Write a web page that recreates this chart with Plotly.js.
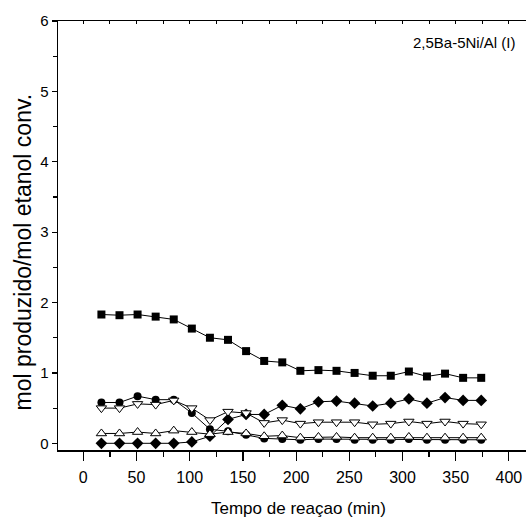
<!DOCTYPE html>
<html>
<head>
<meta charset="utf-8">
<script src="https://cdn.plot.ly/plotly-3.0.1.min.js"></script>
<style>html,body{margin:0;padding:0;background:#fff;}#chart{width:526px;height:520px;}</style>
</head>
<body>
<div id="chart"></div>
<script>
var time = [17,34,51,68,85,102,119,136,153,170,187,204,221,238,255,272,289,306,323,340,357,374];
var squareVals = [1.83,1.82,1.83,1.80,1.76,1.63,1.50,1.47,1.31,1.17,1.15,1.03,1.04,1.03,1.00,0.96,0.96,1.02,0.95,0.99,0.93,0.93];
var circleVals = [0.58,0.58,0.67,0.62,0.62,0.43,0.20,0.17,0.12,0.07,0.06,0.05,0.06,0.06,0.05,0.05,0.05,0.06,0.05,0.05,0.05,0.05];
var diamondVals = [0.00,0.00,0.00,0.00,0.00,0.02,0.10,0.34,0.41,0.41,0.54,0.49,0.59,0.60,0.57,0.53,0.57,0.63,0.57,0.65,0.61,0.61];
var triUpVals = [0.14,0.14,0.16,0.14,0.18,0.16,0.13,0.16,0.14,0.10,0.11,0.08,0.09,0.09,0.08,0.08,0.08,0.09,0.08,0.08,0.08,0.08];
var triDownVals = [0.50,0.50,0.56,0.55,0.61,0.50,0.33,0.45,0.43,0.29,0.33,0.28,0.30,0.30,0.30,0.27,0.28,0.31,0.28,0.31,0.28,0.27];
var xTickVals = [0,50,100,150,200,250,300,350,400];
var yTickVals = [0,1,2,3,4,5,6];
var sampleLabel = "2,5Ba-5Ni/Al (I)";

var lineStyle = {color:'#000', width:1};
function tr(y, marker){
  return {x: time, y: y, type:'scatter', mode:'lines+markers', line: lineStyle, marker: marker, showlegend:false, cliponaxis:false};
}
var data = [
  tr(squareVals, {symbol:'square', size:8, color:'#000', line:{color:'#000', width:0}}),
  tr(circleVals, {symbol:'circle', size:8, color:'#000', line:{color:'#000', width:0}}),
  tr(diamondVals, {symbol:'diamond', size:9, color:'#000', line:{color:'#000', width:0}}),
  tr(triUpVals, {symbol:'triangle-up', size:9, color:'#fff', line:{color:'#000', width:1}}),
  tr(triDownVals, {symbol:'triangle-down', size:9, color:'#fff', line:{color:'#000', width:1}})
];
data.push({x:[0], y:[0], xaxis:'x2', yaxis:'y', type:'scatter', mode:'markers', marker:{opacity:0}, showlegend:false, hoverinfo:'skip'});

var F = 'Liberation Sans, Arial, sans-serif';
var layout = {
  width:526, height:520,
  margin:{l:58, r:0, t:21, b:70},
  paper_bgcolor:'#fff', plot_bgcolor:'#fff',
  font:{family:F, color:'#000'},
  xaxis:{
    range:[-23.8, 416.1], tickvals:xTickVals, ticks:'outside', ticklen:9, tickwidth:1.2, tickcolor:'#000',
    showline:true, linecolor:'#000', linewidth:1.5, showgrid:false, zeroline:false,
    minor:{dtick:25, tick0:0, ticks:'outside', ticklen:5, tickwidth:1.2, tickcolor:'#000', showgrid:false},
    tickfont:{family:F, size:16, color:'#000'},
    ticklabelstandoff:3
  },
  xaxis2:{
    overlaying:'x', side:'top', range:[-23.8, 416.1], dtick:25, tick0:0, ticks:'inside', ticklen:3, tickwidth:1,
    tickcolor:'#000', showticklabels:false, showline:true, linecolor:'#000', linewidth:1.5, showgrid:false, zeroline:false
  },
  yaxis:{
    range:[-0.095, 6], tickvals:yTickVals, ticks:'outside', ticklen:5, tickwidth:1.2, tickcolor:'#000',
    showline:true, linecolor:'#000', linewidth:1.5, showgrid:false, zeroline:false,
    minor:{dtick:0.5, tick0:0, ticks:'outside', ticklen:4, tickwidth:1.2, tickcolor:'#000', showgrid:false},
    tickfont:{family:F, size:15, color:'#000'},
    ticklabelstandoff:0
  },
  annotations:[
    {text:'mol produzido/mol etanol conv.', xref:'paper', yref:'paper', x:(22-58)/468, y:(450-252.5)/429, xanchor:'center', yanchor:'middle',
     textangle:-90, showarrow:false, font:{family:F, size:23, color:'#000'}},
    {text:'Tempo de reaçao (min)', xref:'paper', yref:'paper', x:(298-58)/468, y:(450-508)/429, xanchor:'center', yanchor:'middle', showarrow:false,
     font:{family:F, size:17, color:'#000'}},
    {text:sampleLabel, xref:'paper', yref:'paper', x:(411-58)/468, y:(450-42.5)/429, xanchor:'left', yanchor:'middle', showarrow:false,
     font:{family:F, size:15, color:'#000'}}
  ]
};
Plotly.newPlot('chart', data, layout, {staticPlot:true, displayModeBar:false});
</script>
</body>
</html>
